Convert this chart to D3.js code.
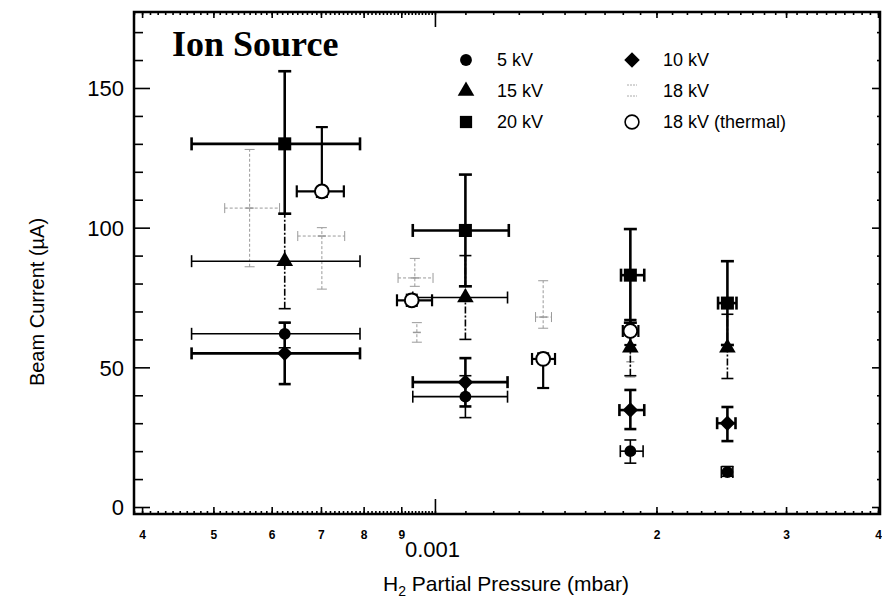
<!DOCTYPE html>
<html><head><meta charset="utf-8">
<script src="https://cdn.jsdelivr.net/npm/d3@7"></script>
<style>body{margin:0;background:#fff}svg{display:block}text{font-family:"Liberation Sans",Arial,sans-serif;fill:#000}</style>
</head><body>
<script>
// rows: [pressure, current, pLo, pHi, iLo, iHi]
const kv5 = [
  [6.25e-4, 62, 4.67e-4, 7.91e-4, 57, 66],
  [1.10e-3, 39.5, 0.933e-3, 1.255e-3, 32, 47],
  [1.843e-3, 20, 1.786e-3, 1.918e-3, 15.7, 24],
  [2.497e-3, 12.5, 2.45e-3, 2.54e-3, 11, 14.5]
];
const kv10 = [
  [6.25e-4, 55, 4.67e-4, 7.91e-4, 44, 66],
  [1.10e-3, 44.7, 0.933e-3, 1.255e-3, 36, 53.3],
  [1.843e-3, 34.7, 1.781e-3, 1.925e-3, 27.9, 41.9],
  [2.497e-3, 30, 2.418e-3, 2.561e-3, 23.6, 35.8]
];
const kv15 = [
  [6.25e-4, 88, 4.67e-4, 7.91e-4, 71, 105],
  [1.10e-3, 75, 0.933e-3, 1.255e-3, 60, 90],
  [1.843e-3, 57, 1.843e-3, 1.843e-3, 47, 67],
  [2.497e-3, 57, 2.497e-3, 2.497e-3, 46, 69]
];
const kv20 = [
  [6.25e-4, 130, 4.67e-4, 7.91e-4, 105, 156],
  [1.10e-3, 99, 0.933e-3, 1.26e-3, 79, 119],
  [1.843e-3, 83, 1.79e-3, 1.925e-3, 66, 99.5],
  [2.497e-3, 73, 2.425e-3, 2.569e-3, 58, 88]
];
const kv18 = [
  [5.60e-4, 107, 5.18e-4, 6.15e-4, 86, 128],
  [7.02e-4, 97, 6.51e-4, 7.54e-4, 78, 100],
  [0.939e-3, 82, 0.891e-3, 0.994e-3, 79, 89],
  [0.945e-3, 62.5, 0.945e-3, 0.945e-3, 59, 66],
  [1.403e-3, 68, 1.37e-3, 1.44e-3, 64, 81],
  [1.843e-3, 52, 1.843e-3, 1.843e-3, 46.5, 58]
];
const kv18thermal = [
  [7.02e-4, 113, 6.49e-4, 7.52e-4, 111, 136],
  [0.930e-3, 74, 0.888e-3, 0.991e-3, 72, 76],
  [1.403e-3, 53, 1.355e-3, 1.456e-3, 42.6, 55],
  [1.843e-3, 63, 1.80e-3, 1.89e-3, 58, 67]
];
const legendLabels = ["5 kV", "15 kV", "20 kV", "10 kV", "18 kV", "18 kV (thermal)"];
const xLabeledTicks = [4e-4, 5e-4, 6e-4, 7e-4, 8e-4, 9e-4, 2e-3, 3e-3, 4e-3];
const xMainTick = 1e-3;
const yMajorTicks = [0, 50, 100, 150];
const xDomain = [3.9e-4, 4.025e-3];
const yDomain = [-2.5, 177.2];

const W = 882, H = 601;
const L = 134, R = 880, T = 12, B = 514;
const svg = d3.select("body").append("svg").attr("width", W).attr("height", H);
const x = d3.scaleLog().domain(xDomain).range([L, R]);
const y = d3.scaleLinear().domain(yDomain).range([B, T]);

// minor x ticks every 0.1 of mantissa
const xMinor = [];
for (let e = -4; e <= -3; e++) {
  for (let m = 10; m < 100; m++) {
    const v = (m / 10) * Math.pow(10, e);
    if (v >= xDomain[0] && v <= xDomain[1]) xMinor.push(v);
  }
}
const yMinor = d3.range(0, 180, 10).filter(v => !yMajorTicks.includes(v));

// bottom axis
svg.append("g").attr("transform", `translate(0,${B})`)
  .call(d3.axisBottom(x).tickValues(xMinor).tickSize(-3).tickFormat(""))
  .call(g => g.select(".domain").remove());
svg.append("g").attr("transform", `translate(0,${B})`)
  .call(d3.axisBottom(x).tickValues(xLabeledTicks).tickSize(-7).tickPadding(16)
    .tickFormat(d => d < 1e-3 ? Math.round(d * 1e4) : Math.round(d * 1e3)))
  .call(g => g.select(".domain").remove())
  .call(g => g.selectAll("text").attr("font-size", 12).attr("font-weight", "bold")
    .attr("font-family", "Liberation Sans, Arial, sans-serif"));
svg.append("g").attr("transform", `translate(0,${B})`)
  .call(d3.axisBottom(x).tickValues([xMainTick]).tickSize(-15).tickPadding(27)
    .tickFormat(() => "0.001"))
  .call(g => g.select(".domain").remove())
  .call(g => g.selectAll("text").attr("font-size", 22).attr("dx", -3).attr("font-family", "Liberation Sans, Arial, sans-serif"));
// top axis
svg.append("g").attr("transform", `translate(0,${T})`)
  .call(d3.axisTop(x).tickValues(xMinor).tickSize(-3).tickFormat(""))
  .call(g => g.select(".domain").remove());
svg.append("g").attr("transform", `translate(0,${T})`)
  .call(d3.axisTop(x).tickValues(xLabeledTicks).tickSize(-6).tickFormat(""))
  .call(g => g.select(".domain").remove());
svg.append("g").attr("transform", `translate(0,${T})`)
  .call(d3.axisTop(x).tickValues([xMainTick]).tickSize(-15).tickFormat(""))
  .call(g => g.select(".domain").remove());
// left axis
svg.append("g").attr("transform", `translate(${L},0)`)
  .call(d3.axisLeft(y).tickValues(yMinor).tickSize(-9).tickFormat(""))
  .call(g => g.select(".domain").remove());
svg.append("g").attr("transform", `translate(${L},0)`)
  .call(d3.axisLeft(y).tickValues(yMajorTicks).tickSize(-16).tickPadding(10).tickFormat(d3.format("d")))
  .call(g => g.select(".domain").remove())
  .call(g => g.selectAll("text").attr("font-size", 22).attr("dy", "0.36em").attr("font-family", "Liberation Sans, Arial, sans-serif"));
// right axis
svg.append("g").attr("transform", `translate(${R},0)`)
  .call(d3.axisRight(y).tickValues(yMinor).tickSize(-3).tickFormat(""))
  .call(g => g.select(".domain").remove());
svg.append("g").attr("transform", `translate(${R},0)`)
  .call(d3.axisRight(y).tickValues(yMajorTicks).tickSize(-8).tickFormat(""))
  .call(g => g.select(".domain").remove());
svg.selectAll(".tick line").attr("stroke", "#000").attr("stroke-width", 1.6);

// frame
svg.append("rect").attr("x", L).attr("y", T).attr("width", R - L).attr("height", B - T)
  .attr("fill", "none").attr("stroke", "#000").attr("stroke-width", 2.5);

// axis titles
const xt = svg.append("text").attr("x", 506).attr("y", 591).attr("text-anchor", "middle").attr("font-size", 21);
xt.append("tspan").text("H");
xt.append("tspan").attr("font-size", 14).attr("dy", 5).text("2");
xt.append("tspan").attr("dy", -5).text(" Partial Pressure (mbar)");
svg.append("text").attr("transform", "translate(44,302) rotate(-90)").attr("text-anchor", "middle")
  .attr("font-size", 20).text("Beam Current (\u00b5A)");

svg.append("text").attr("x", 172).attr("y", 56)
  .attr("font-weight", "bold").attr("font-size", 36).style("font-family", "'Liberation Serif','Times New Roman',serif")
  .text("Ion Source");

// diamond = square rotated 45deg
const diamondSym = {draw(ctx, size) { const r = Math.sqrt(size / 2); ctx.moveTo(0, -r); ctx.lineTo(r, 0); ctx.lineTo(0, r); ctx.lineTo(-r, 0); ctx.closePath(); }};

// series definitions
const series = [
  {data: kv18, sym: null, w: 1, color: "#9a9a9a", dash: "3,2", fill: "none", cap: 10},
  {data: kv5, sym: d3.symbolCircle, size: 110, w: 1.6, color: "#000", dash: null, fill: "#000", cap: 12},
  {data: kv15, sym: d3.symbolTriangle, size: 120, w: 1.6, color: "#000", dash: "7,2,2,2", hdash: null, fill: "#000", cap: 12},
  {data: kv10, sym: diamondSym, size: 120, w: 2.6, color: "#000", dash: null, fill: "#000", cap: 12},
  {data: kv20, sym: d3.symbolSquare, size: 170, w: 2.6, color: "#000", dash: null, fill: "#000", cap: 13},
  {data: kv18thermal, sym: d3.symbolCircle, size: 150, w: 2.2, color: "#000", dash: null, fill: "#fff", cap: 12, open: true}
];

const plot = svg.append("g");
series.forEach(s => {
  const g = plot.append("g").attr("stroke", s.color).attr("stroke-width", s.w).attr("fill", "none");
  s.data.forEach(r => {
    const [p, v, pLo, pHi, vLo, vHi] = r;
    const cx = x(p), cy = y(v);
    const vdash = s.dash;
    const hdash = s.hdash !== undefined ? s.hdash : s.dash;
    if (vLo !== vHi) {
      g.append("line").attr("x1", cx).attr("x2", cx).attr("y1", y(vLo)).attr("y2", y(vHi)).attr("stroke-dasharray", vdash);
      if (vLo < v) g.append("line").attr("x1", cx - s.cap / 2).attr("x2", cx + s.cap / 2).attr("y1", y(vLo)).attr("y2", y(vLo));
      if (vHi > v) g.append("line").attr("x1", cx - s.cap / 2).attr("x2", cx + s.cap / 2).attr("y1", y(vHi)).attr("y2", y(vHi));
    }
    if (pLo !== pHi) {
      g.append("line").attr("x1", x(pLo)).attr("x2", x(pHi)).attr("y1", cy).attr("y2", cy).attr("stroke-dasharray", hdash);
      g.append("line").attr("x1", x(pLo)).attr("x2", x(pLo)).attr("y1", cy - s.cap / 2).attr("y2", cy + s.cap / 2);
      g.append("line").attr("x1", x(pHi)).attr("x2", x(pHi)).attr("y1", cy - s.cap / 2).attr("y2", cy + s.cap / 2);
    }
  });
  if (s.sym) {
    plot.append("g").selectAll("path").data(s.data).join("path")
      .attr("transform", d => `translate(${x(d[0])},${y(d[1])})`)
      .attr("d", d3.symbol().type(s.sym).size(s.size))
      .attr("fill", s.fill).attr("stroke", s.open ? "#000" : "none").attr("stroke-width", s.open ? 2 : 0);
  } else {
    plot.append("g").selectAll("line").data(s.data).join("line")
      .attr("x1", d => x(d[0]) - 4).attr("x2", d => x(d[0]) + 4)
      .attr("y1", d => y(d[1])).attr("y2", d => y(d[1]))
      .attr("stroke", s.color).attr("stroke-width", 1.5);
  }
});

// legend
const legendRows = [
  {sym: d3.symbolCircle, size: 110, fill: "#000"},
  {sym: d3.symbolTriangle, size: 120, fill: "#000"},
  {sym: d3.symbolSquare, size: 150, fill: "#000"},
  {sym: diamondSym, size: 120, fill: "#000"},
  {sym: null},
  {sym: d3.symbolCircle, size: 150, fill: "#fff", open: true}
];
const lg = svg.append("g");
legendRows.forEach((r, i) => {
  const col = Math.floor(i / 3), row = i % 3;
  const mx = col === 0 ? 466 : 632, tx = col === 0 ? 497 : 663;
  const cy = 60 + row * 31;
  if (r.sym) {
    lg.append("path").attr("transform", `translate(${mx},${cy})`)
      .attr("d", d3.symbol().type(r.sym).size(r.size)).attr("fill", r.fill)
      .attr("stroke", r.open ? "#000" : "none").attr("stroke-width", r.open ? 1.6 : 0);
  } else {
    lg.append("line").attr("x1", mx - 5).attr("x2", mx + 5).attr("y1", cy - 6).attr("y2", cy - 6)
      .attr("stroke", "#aaa").attr("stroke-width", 1).attr("stroke-dasharray", "2,1");
    lg.append("line").attr("x1", mx - 5).attr("x2", mx + 5).attr("y1", cy + 5).attr("y2", cy + 5)
      .attr("stroke", "#aaa").attr("stroke-width", 1).attr("stroke-dasharray", "2,1");
  }
  lg.append("text").attr("x", tx).attr("y", cy + 6).attr("font-size", 18).text(legendLabels[i]);
});
</script>
</body></html>
